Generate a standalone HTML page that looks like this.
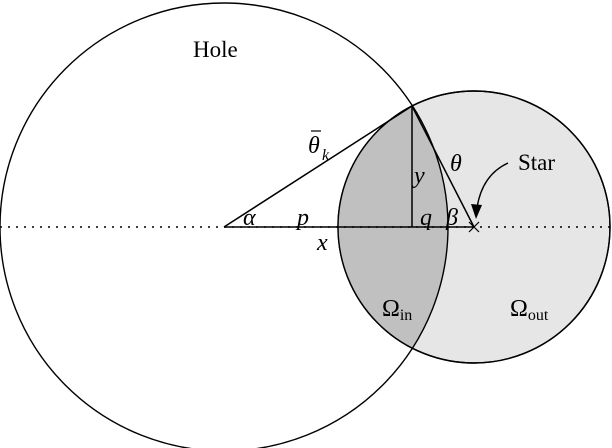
<!DOCTYPE html>
<html><head><meta charset="utf-8"><style>body{margin:0;background:#fff}svg{display:block}</style></head><body>
<svg width="612" height="448" viewBox="0 0 612 448" xmlns="http://www.w3.org/2000/svg" font-family="Liberation Serif, serif">
<circle cx="474" cy="227" r="136" fill="#e6e6e6" stroke="#000" stroke-width="1.4"/>
<path d="M412 106 A224 224 0 0 1 412 348 A136 136 0 0 1 412 106 Z" fill="#c0c0c0"/>
<circle cx="224" cy="227" r="224" fill="none" stroke="#000" stroke-width="1.4"/>
<circle cx="474" cy="227" r="136" fill="none" stroke="#000" stroke-width="1.4"/>
<line x1="0" y1="227" x2="612" y2="227" stroke="#000" stroke-width="1.4" stroke-dasharray="2,6"/>
<line x1="224" y1="227" x2="474" y2="227" stroke="#000" stroke-width="1.5"/>
<line x1="224" y1="227" x2="412" y2="106" stroke="#000" stroke-width="1.5"/>
<line x1="412" y1="106" x2="412" y2="227" stroke="#000" stroke-width="1.5"/>
<line x1="412" y1="106" x2="474" y2="227" stroke="#000" stroke-width="1.5"/>
<line x1="469" y1="222" x2="479" y2="232" stroke="#000" stroke-width="1.2"/>
<line x1="469" y1="232" x2="479" y2="222" stroke="#000" stroke-width="1.2"/>
<path d="M508 163 Q482 175 477 208" fill="none" stroke="#000" stroke-width="1.4"/>
<polygon points="476,219 471,204 482,205" fill="#000"/>
<text x="193" y="57" font-size="23">Hole</text>
<text x="518" y="170" font-size="23">Star</text>
<text x="308" y="153" font-size="24" font-style="italic">θ</text>
<line x1="311" y1="131" x2="321" y2="131" stroke="#000" stroke-width="1.2"/>
<text x="322" y="160" font-size="16" font-style="italic">k</text>
<text x="450" y="171" font-size="24" font-style="italic">θ</text>
<text x="414" y="183" font-size="24" font-style="italic">y</text>
<text x="243" y="225" font-size="24" font-style="italic">α</text>
<text x="297" y="225" font-size="24" font-style="italic">p</text>
<text x="317" y="250" font-size="24" font-style="italic">x</text>
<text x="420" y="225" font-size="24" font-style="italic">q</text>
<text x="446" y="225" font-size="24" font-style="italic">β</text>
<text x="382" y="316" font-size="24">Ω<tspan font-size="16" dy="4">in</tspan></text>
<text x="510" y="316" font-size="24">Ω<tspan font-size="16" dy="4">out</tspan></text>
</svg>
</body></html>
